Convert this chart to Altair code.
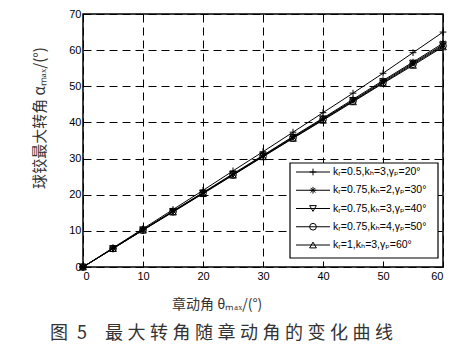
import altair as alt
import pandas as pd

theta = [0, 5, 10, 15, 20, 25, 30, 35, 40, 45, 50, 55, 60]
labels = ["kᵣ=0.5,kₕ=3,γₚ=20°", "kᵣ=0.75,kₕ=2,γₚ=30°", "kᵣ=0.75,kₕ=3,γₚ=40°",
          "kᵣ=0.75,kₕ=4,γₚ=50°", "kᵣ=1,kₕ=3,γₚ=60°"]
s1 = [0, 5.3, 10.6, 15.9, 21.2, 26.6, 31.9, 37.3, 42.7, 48.1, 53.6, 59.3, 65.0]
s2 = [0, 5.2, 10.3, 15.5, 20.6, 25.8, 30.9, 36.1, 41.2, 46.4, 51.6, 56.7, 61.9]
s3 = [0, 5.1, 10.3, 15.4, 20.5, 25.6, 30.8, 35.9, 41.0, 46.1, 51.3, 56.4, 61.5]
s4 = [0, 5.1, 10.2, 15.3, 20.4, 25.5, 30.6, 35.7, 40.8, 45.9, 51.0, 56.1, 61.2]
s5 = [0, 5.1, 10.2, 15.2, 20.3, 25.4, 30.5, 35.6, 40.6, 45.7, 50.8, 55.8, 60.9]
series_vals = [s1, s2, s3, s4, s5]
x_ticks = [0, 10, 20, 30, 40, 50, 60]
y_ticks = [0, 10, 20, 30, 40, 50, 60, 70]

shapes = [
    "M-1,0L1,0M0,-1L0,1",
    "M-1,0L1,0M0,-1L0,1M-0.7,-0.7L0.7,0.7M-0.7,0.7L0.7,-0.7",
    "triangle-down",
    "circle",
    "triangle-up",
]

rows = []
for lab, vals in zip(labels, series_vals):
    for t, a in zip(theta, vals):
        rows.append({"theta": t, "alpha": a, "series": lab})
df = pd.DataFrame(rows)
leg = pd.DataFrame({"series": labels, "row": list(range(len(labels)))})
one = pd.DataFrame({"k": [0]})

LATIN = "Liberation Sans, DejaVu Sans"
CJK = "Noto Sans CJK SC"

xenc = alt.X("theta:Q", scale=alt.Scale(domain=[0, 60], nice=False),
             axis=alt.Axis(values=x_ticks, title=None, grid=True, gridDash=[8, 5],
                           gridColor="black", gridWidth=1, gridOpacity=1, ticks=False,
                           domain=False, labelFont=LATIN, labelFontSize=11,
                           labelColor="black", labelPadding=3))
yenc = alt.Y("alpha:Q", scale=alt.Scale(domain=[0, 70], nice=False),
             axis=alt.Axis(values=y_ticks, title=None, grid=True, gridDash=[8, 5],
                           gridColor="black", gridWidth=1, gridOpacity=1, ticks=False,
                           domain=False, labelFont=LATIN, labelFontSize=11,
                           labelColor="black", labelPadding=2))
shape_enc = alt.Shape("series:N", scale=alt.Scale(domain=labels, range=shapes), legend=None)

lines = alt.Chart(df).mark_line(color="black", strokeWidth=1).encode(
    x=xenc, y=yenc, detail="series:N")
pts = alt.Chart(df).mark_point(filled=False, color="black", strokeWidth=1, size=45, opacity=1).encode(
    x=alt.X("theta:Q"), y=alt.Y("alpha:Q", scale=alt.Scale(domain=[0, 70], nice=False), axis=None),
    shape=shape_enc)

box = alt.Chart(one).mark_rect(fill="white", stroke="black", strokeWidth=1.2).encode(
    x=alt.value(207), x2=alt.value(355), y=alt.value(149), y2=alt.value(244))
ly = alt.Y("row:Q", scale=alt.Scale(domain=[0, 4], range=[158, 231]), axis=None)
leg_rule = alt.Chart(leg).mark_rule(color="black", strokeWidth=1).encode(
    x=alt.value(213), x2=alt.value(247), y=ly)
leg_pts = alt.Chart(leg).mark_point(filled=False, color="black", strokeWidth=1, size=45, opacity=1).encode(
    x=alt.value(230), y=ly, shape=shape_enc)
leg_txt = alt.Chart(leg).mark_text(align="left", baseline="middle", font=LATIN,
                                   fontSize=10.5, color="black").encode(
    x=alt.value(250), y=ly, text="series:N")

xtitle = alt.Chart(one).mark_text(align="left", baseline="middle", font=CJK, fontSize=14,
                                  color="#333").encode(
    x=alt.value(89), y=alt.value(291), text=alt.value("章动角 θₘₐₓ/(°)"))
ytitle = alt.Chart(one).mark_text(align="center", baseline="middle", font=CJK, fontSize=15,
                                  angle=270, color="#333").encode(
    x=alt.value(-43), y=alt.value(104), text=alt.value("球铰最大转角 αₘₐₓ/(°)"))
cap_chars = "\u2005".join("最大转角随章动角的变化曲线")
caption = alt.Chart(one).mark_text(align="left", baseline="middle", font=CJK, fontSize=18,
                                   color="#333").encode(
    x=alt.value(-33), y=alt.value(320), text=alt.value("图\u20025\u3000" + cap_chars))

chart = alt.layer(lines, pts, box, leg_rule, leg_pts, leg_txt, xtitle, ytitle, caption).resolve_scale(
    y="independent", shape="shared"
).properties(
    width=360, height=253,
    autosize=alt.AutoSizeParams(type="none"),
    padding={"left": 75, "top": 6, "right": 18, "bottom": 86},
    background="white",
).configure_view(stroke="black", strokeWidth=1.5)

chart.save("out.html", embed_options={"renderer": "svg", "actions": False})
